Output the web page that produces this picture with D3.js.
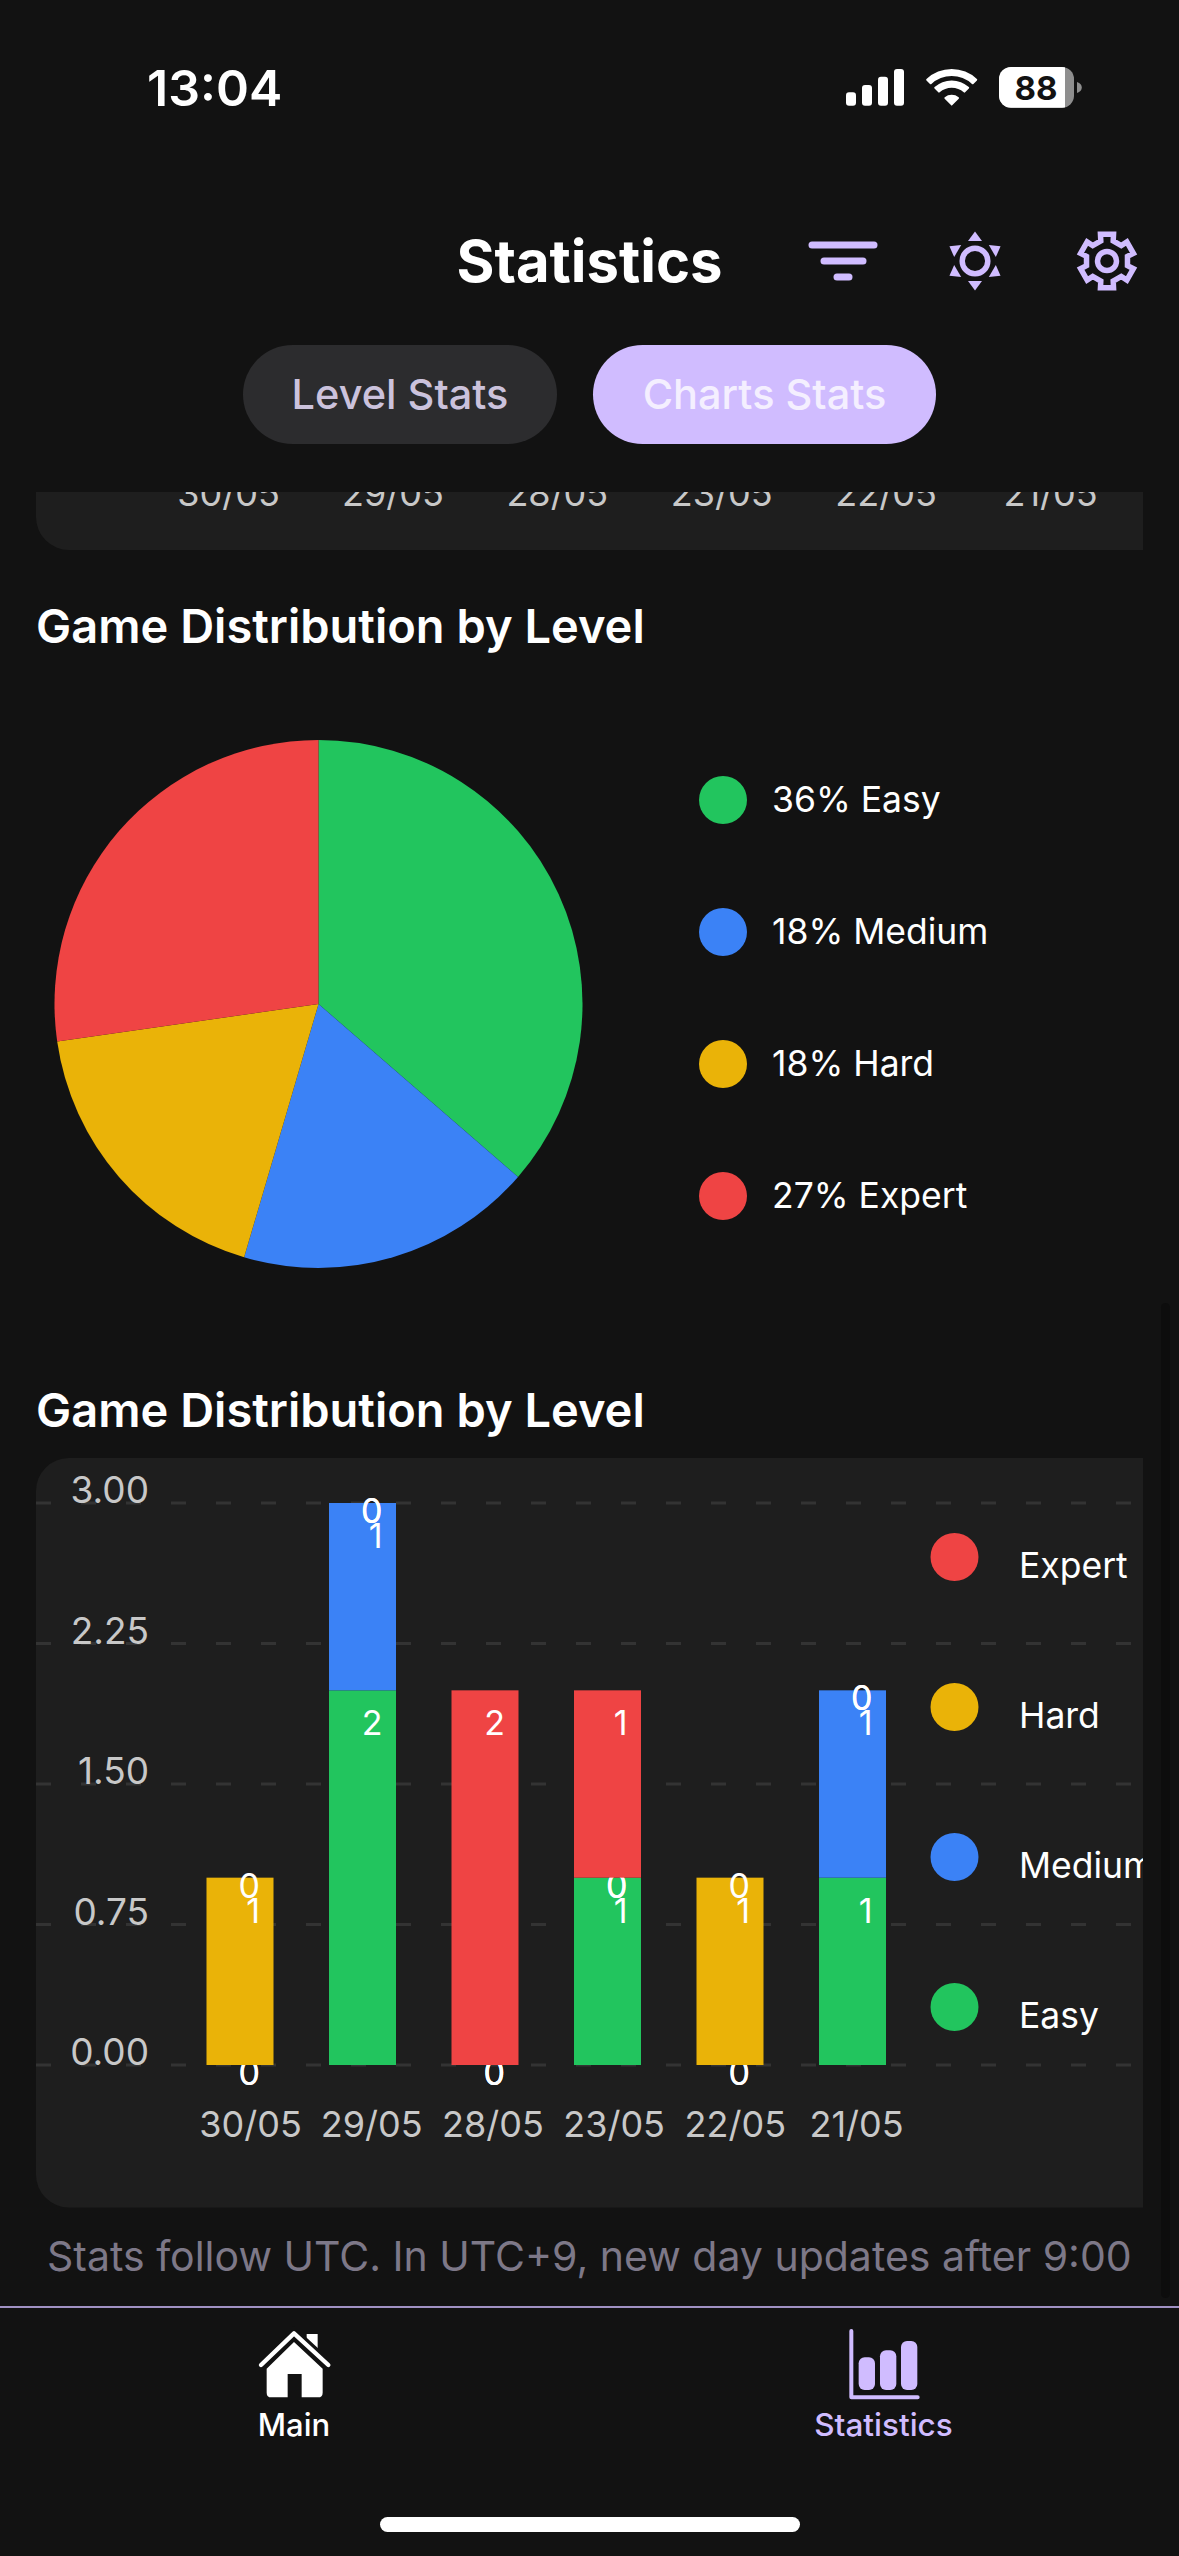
<!DOCTYPE html>
<html>
<head>
<meta charset="utf-8">
<title>Statistics</title>
<script src="https://cdn.jsdelivr.net/npm/d3@7/dist/d3.min.js"></script>
<style>
  html, body { margin: 0; padding: 0; background: #121212; }
  svg { display: block; font-family: Inter, "Noto Sans", sans-serif; }
  text { white-space: pre; }
</style>
</head>
<body>
<svg id="screen" width="1179" height="2556" viewBox="0 0 1179 2556"></svg>
<script>
// Chart values
const levels = ["Easy", "Medium", "Hard", "Expert"];
const levelColors = ["#22c55e", "#3b82f6", "#eab308", "#ef4444"];
const levelTotals = [4, 2, 2, 3];
const levelShares = ["36%", "18%", "18%", "27%"];

const dates = ["30/05", "29/05", "28/05", "23/05", "22/05", "21/05"];
const easyGames = [0, 2, 0, 1, 0, 1];
const mediumGames = [0, 1, 0, 0, 0, 1];
const hardGames = [1, 0, 0, 0, 1, 0];
const expertGames = [0, 0, 2, 1, 0, 0];
const yTicks = [0, 0.75, 1.5, 2.25, 3];

const ACCENT = "#d0bcff";
const CARD = "#1e1e1e";
const svg = d3.select("#screen");
const defs = svg.append("defs");

svg.append("rect").attr("width", 1179).attr("height", 2556).attr("fill", "#121212");

function label(parent, x, y, str, size, weight, fill, anchor) {
  return parent.append("text").attr("x", x).attr("y", y)
    .attr("font-size", size).attr("font-weight", weight)
    .attr("fill", fill).attr("text-anchor", anchor || "start").text(str);
}

/* ---------- scroll area ---------- */
defs.append("clipPath").attr("id", "scroller")
  .append("rect").attr("x", 0).attr("y", 492).attr("width", 1143).attr("height", 1800);

// Scrollbar thumb
svg.append("rect").attr("x", 1161).attr("y", 1303).attr("width", 9).attr("height", 995)
  .attr("rx", 4.5).attr("fill", "#0d0d0d");

const scroll = svg.append("g").attr("clip-path", "url(#scroller)");

// Tail of the chart card above, scrolled mostly out of view
scroll.append("rect").attr("x", 36).attr("y", 300).attr("width", 1200).attr("height", 250)
  .attr("rx", 33).attr("fill", CARD);
const prevX = d3.scalePoint().domain(dates).range([228, 1050]);
scroll.append("g").attr("transform", "translate(0,506)")
  .call(d3.axisBottom(prevX).tickSize(0).tickPadding(0))
  .call(g => g.select(".domain").remove())
  .call(g => g.selectAll("text")
    .attr("y", 0).attr("dy", 0)
    .attr("font-family", "Inter").attr("font-size", 36)
    .attr("fill", "#c8c8c8"));

/* ---------- pie ---------- */
label(scroll, 36, 643, "Game Distribution by Level", 47, 600, "#fff");

const pieG = scroll.append("g").attr("transform", "translate(318.5,1004)");
const pieArcs = d3.pie().sort(null)(levelTotals);
pieG.selectAll("path").data(pieArcs).join("path")
  .attr("d", d3.arc().innerRadius(0).outerRadius(264))
  .attr("fill", (d, i) => levelColors[i]);

const pieLegendY = d3.scalePoint().domain(levels).range([800, 1196]);
levels.forEach((name, i) => {
  scroll.append("circle").attr("cx", 723).attr("cy", pieLegendY(name)).attr("r", 24)
    .attr("fill", levelColors[i]);
  label(scroll, 772, pieLegendY(name) + 12, `${levelShares[i]} ${name}`, 35.5, 400, "#fff");
});

/* ---------- stacked bars ---------- */
label(scroll, 36, 1427, "Game Distribution by Level", 47, 600, "#fff");

defs.append("clipPath").attr("id", "card")
  .append("rect").attr("x", 36).attr("y", 1458).attr("width", 1107).attr("height", 750);
const cardG = scroll.append("g").attr("clip-path", "url(#card)");
cardG.append("rect").attr("x", 36).attr("y", 1458).attr("width", 1200).attr("height", 749.5)
  .attr("rx", 33).attr("fill", CARD);

const x = d3.scaleBand().domain(dates).range([151, 941.5]).paddingInner(0.453).paddingOuter(0.453);
const y = d3.scaleLinear().domain([0, 3]).range([2065, 1503]);

// Dashed grid, running the full card width
cardG.append("g").selectAll("line").data(yTicks).join("line")
  .attr("x1", 36).attr("x2", 1131)
  .attr("y1", d => y(d)).attr("y2", d => y(d))
  .attr("stroke", "#333333").attr("stroke-width", 3).attr("stroke-dasharray", "15 30");

// Tick labels sit right on top of their grid lines
cardG.append("g").attr("transform", "translate(149,-0.5)")
  .call(d3.axisLeft(y).tickValues(yTicks).tickFormat(d3.format(".2f")).tickSize(0).tickPadding(0))
  .call(g => g.select(".domain").remove())
  .call(g => g.selectAll("text")
    .attr("dy", 0).attr("x", 0)
    .attr("font-family", "Inter").attr("font-size", 37)
    .attr("fill", "#c8c8c8"));

const dateLabelX = d3.scalePoint().domain(dates).range([250, 856]);
cardG.append("g").attr("transform", "translate(0,2137)")
  .call(d3.axisBottom(dateLabelX).tickSize(0).tickPadding(0))
  .call(g => g.select(".domain").remove())
  .call(g => g.selectAll("text")
    .attr("y", 0).attr("dy", 0)
    .attr("font-family", "Inter").attr("font-size", 36)
    .attr("fill", "#c8c8c8"));

const table = dates.map((date, i) => ({
  date,
  Easy: easyGames[i],
  Medium: mediumGames[i],
  Hard: hardGames[i],
  Expert: expertGames[i]
}));
const stacked = d3.stack().keys(levels)(table);

// Each level paints its segments and then its value labels, so a later
// level's segment covers any earlier label that falls beneath it.
stacked.forEach((layer, li) => {
  const g = cardG.append("g");
  g.selectAll("rect").data(layer).join("rect")
    .attr("x", d => x(d.data.date))
    .attr("width", x.bandwidth())
    .attr("y", d => y(d[1]))
    .attr("height", d => y(d[0]) - y(d[1]))
    .attr("fill", levelColors[li]);
  g.selectAll("text").data(layer).join("text")
    .attr("x", d => x(d.data.date) + x.bandwidth() / 2 + 20)
    .attr("y", d => y(d[1]) + (d[1] - d[0] === 0 ? 20 : 45))
    .attr("text-anchor", "end")
    .attr("font-size", 34).attr("fill", "#fff")
    .text(d => d[1] - d[0]);
});

// Side legend, highest level first
const barLegendOrder = levels.slice().reverse();
const barLegendY = d3.scalePoint().domain(barLegendOrder).range([1557, 2007]);
barLegendOrder.forEach(name => {
  cardG.append("circle").attr("cx", 954.5).attr("cy", barLegendY(name)).attr("r", 24)
    .attr("fill", levelColors[levels.indexOf(name)]);
  label(cardG, 1019, barLegendY(name) + 21, name, 35.5, 400, "#fff");
});

label(scroll, 47, 2271, "Stats follow UTC. In UTC+9, new day updates after 9:00", 41, 400, "#7d7888");

/* ---------- status bar ---------- */
label(svg, 147, 106, "13:04", 50, 600, "#fff");
[[846, 92.3], [862, 85], [878, 76.7], [894, 69]].forEach(([bx, by]) => {
  svg.append("rect").attr("x", bx).attr("y", by).attr("width", 10).attr("height", 105.7 - by)
    .attr("rx", 3).attr("fill", "#fff");
});
const wifi = svg.append("g").attr("transform", "translate(951.7,105.7)").attr("fill", "#fff");
[[0, 11], [18, 25.3], [29.7, 36.7]].forEach(([r0, r1]) => {
  wifi.append("path").attr("d", d3.arc().innerRadius(r0).outerRadius(r1)
    .startAngle(-Math.PI / 4).endAngle(Math.PI / 4).cornerRadius(1)());
});
defs.append("clipPath").attr("id", "battery")
  .append("rect").attr("x", 999).attr("y", 67).attr("width", 75).attr("height", 40.7).attr("rx", 12);
const battery = svg.append("g");
battery.append("path").attr("d", "M1077,82 A8,6 0 0 1 1077,93 Z").attr("fill", "#8e8e8e");
const batteryBody = battery.append("g").attr("clip-path", "url(#battery)");
batteryBody.append("rect").attr("x", 999).attr("y", 67).attr("width", 75).attr("height", 41).attr("fill", "#8e8e8e");
batteryBody.append("rect").attr("x", 999).attr("y", 67).attr("width", 66).attr("height", 41).attr("fill", "#fff");
label(battery, 1036, 99.5, "88", 33, 700, "#121212", "middle");

/* ---------- header ---------- */
label(svg, 589.5, 282, "Statistics", 58, 700, "#fff", "middle");

[[809, 877, 245], [821, 866, 261], [834, 852, 277]].forEach(([a, b, ly]) => {
  svg.append("line").attr("x1", a + 3).attr("x2", b - 3).attr("y1", ly).attr("y2", ly)
    .attr("stroke", ACCENT).attr("stroke-width", 7).attr("stroke-linecap", "round");
});

const sun = svg.append("g").attr("transform", "translate(975,261)");
sun.append("circle").attr("r", 12.8).attr("fill", "none").attr("stroke", ACCENT).attr("stroke-width", 5.5);
d3.range(6).forEach(k => {
  sun.append("path").attr("d", "M0,-29.5 L7,-20 L-7,-20 Z").attr("fill", ACCENT)
    .attr("transform", `rotate(${k * 60})`);
});

const gearPoints = [];
d3.range(6).forEach(k => {
  const a = k * Math.PI / 3;
  [[21, -0.30], [27.5, -0.24], [27.5, 0.24], [21, 0.30]].forEach(([r, da]) => {
    gearPoints.push([r * Math.sin(a + da), -r * Math.cos(a + da)]);
  });
});
const gear = svg.append("g").attr("transform", "translate(1107,261)")
  .attr("fill", "none").attr("stroke", ACCENT).attr("stroke-width", 5.5);
gear.append("path").attr("d", d3.line().curve(d3.curveLinearClosed)(gearPoints)).attr("stroke-linejoin", "miter");
gear.append("circle").attr("r", 9.5);

/* ---------- tabs ---------- */
svg.append("rect").attr("x", 243).attr("y", 345).attr("width", 314).attr("height", 99)
  .attr("rx", 49.5).attr("fill", "#2c2c2e");
label(svg, 400, 409, "Level Stats", 41.5, 500, "#cbc2dc", "middle");
svg.append("rect").attr("x", 593).attr("y", 345).attr("width", 343).attr("height", 99)
  .attr("rx", 49.5).attr("fill", ACCENT);
label(svg, 764.5, 409, "Charts Stats", 41.5, 500, "#f4efff", "middle");

/* ---------- bottom navigation ---------- */
svg.append("line").attr("x1", 0).attr("x2", 1179).attr("y1", 2307).attr("y2", 2307)
  .attr("stroke", ACCENT).attr("stroke-width", 1.5);

const home = svg.append("g").attr("transform", "translate(220,2280) scale(0.3333)").attr("fill", "#fff");
home.append("path").attr("d", "M260,162 H293 V210 H260 Z");
home.append("path").attr("d", "M123,255 L222,160 L325,255").attr("fill", "none").attr("stroke", "#121212").attr("stroke-width", 32);
home.append("path").attr("d", "M123,255 L222,160 L325,255").attr("fill", "none").attr("stroke", "#fff")
  .attr("stroke-width", 13).attr("stroke-linecap", "round").attr("stroke-linejoin", "round");
home.append("path").attr("d", "M222,186 L308,266 V338 Q308,352 294,352 H245 V282 H203 V352 H154 Q140,352 140,338 V266 Z");
label(svg, 294, 2436, "Main", 31, 500, "#fff", "middle");

const stat = svg.append("g").attr("transform", "translate(780,2280) scale(0.3333)");
stat.append("path").attr("d", "M214,153 V352 H413").attr("fill", "none").attr("stroke", ACCENT)
  .attr("stroke-width", 12).attr("stroke-linecap", "round").attr("stroke-linejoin", "round");
[[236, 232], [300, 211], [363, 183]].forEach(([bx, by]) => {
  stat.append("rect").attr("x", bx).attr("y", by).attr("width", 49).attr("height", 330 - by)
    .attr("rx", 18).attr("fill", ACCENT);
});
label(svg, 883.5, 2436, "Statistics", 31.5, 500, ACCENT, "middle");

svg.append("rect").attr("x", 380).attr("y", 2517).attr("width", 420).attr("height", 15)
  .attr("rx", 7.5).attr("fill", "#fff");
</script>
</body>
</html>
